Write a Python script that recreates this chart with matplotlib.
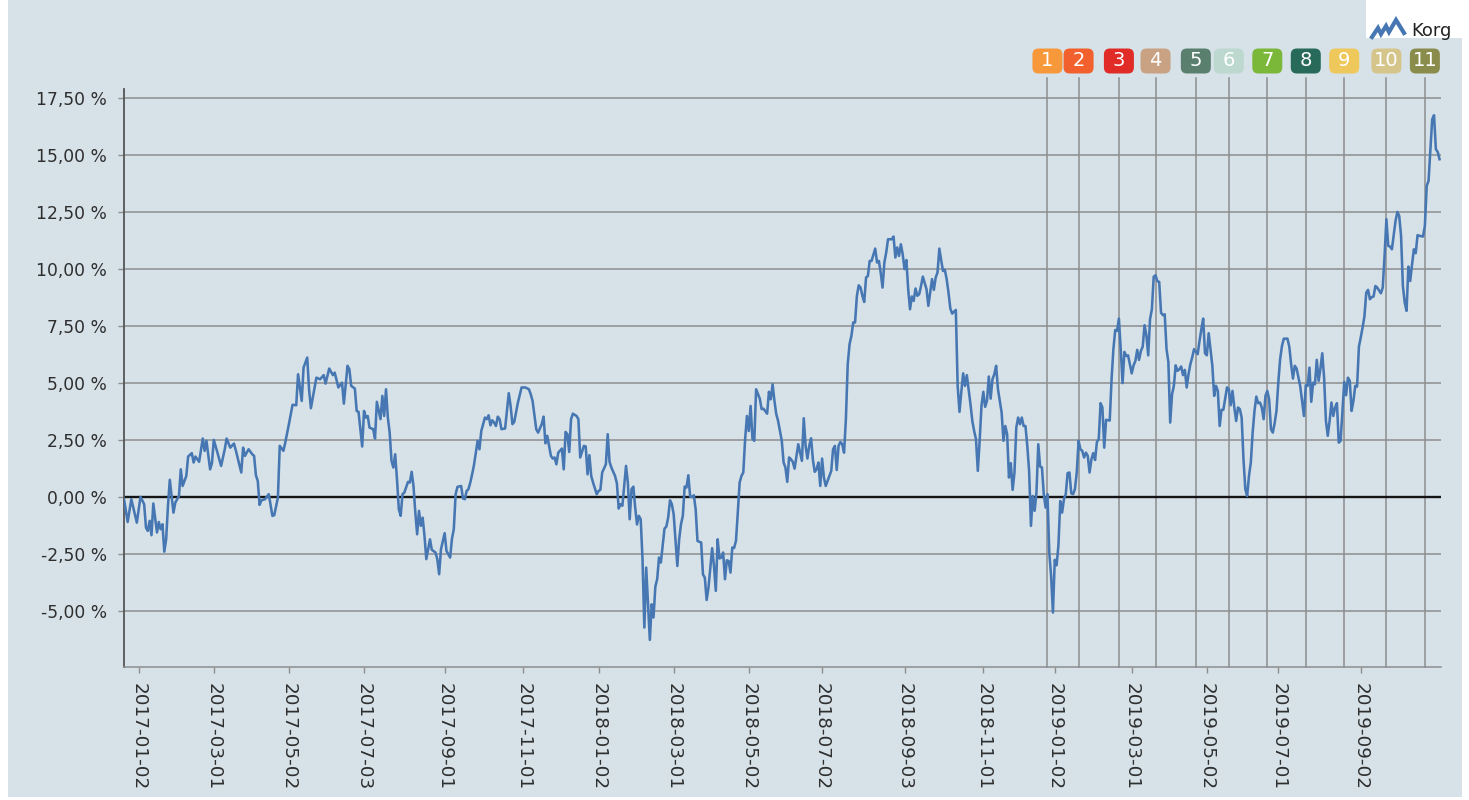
import numpy as np
import pandas as pd
import matplotlib
matplotlib.use("Agg")
import matplotlib.pyplot as plt
from matplotlib.patches import FancyBboxPatch, Rectangle
from matplotlib.lines import Line2D
from matplotlib.transforms import blended_transform_factory, IdentityTransform

# ---------------- data ----------------
start_date = "2016-12-20"
end_date = "2019-10-31"
holidays = ["2016-12-26",
            "2017-01-06", "2017-04-14", "2017-04-17", "2017-05-01", "2017-05-25",
            "2017-06-06", "2017-06-23", "2017-12-25", "2017-12-26",
            "2018-01-01", "2018-01-05", "2018-03-30", "2018-04-02", "2018-05-01",
            "2018-05-10", "2018-06-06", "2018-06-22", "2018-12-24", "2018-12-25",
            "2018-12-26", "2018-12-31",
            "2019-01-01", "2019-04-19", "2019-04-22", "2019-05-01", "2019-05-30",
            "2019-06-06", "2019-06-21"]

# trading-session number (0 = start_date) and return in percent
sessions = [
    0, 2, 4, 7, 9, 11, 12, 13, 14, 15, 16, 18, 19, 20, 21, 22, 23, 24, 25, 27,
    28, 30, 31, 32, 34, 35, 37, 38, 39, 41, 43, 44, 45, 47, 48, 49, 51, 53, 55, 56,
    58, 60, 61, 64, 65, 66, 68, 70, 71, 72, 73, 74, 75, 77, 79, 81, 82, 84, 85, 87,
    88, 90, 92, 94, 95, 97, 98, 100, 101, 102, 105, 107, 109, 110, 112, 114, 115, 117,
    119, 120, 122, 123, 124, 126, 127, 128, 130, 131, 132, 133, 134, 136, 137, 138,
    140, 141, 142, 143, 144, 145, 146, 147, 148, 149, 150, 151, 152, 153, 155, 156,
    157, 158, 159, 160, 161, 162, 163, 164, 165, 167, 168, 170, 171, 172, 173, 175,
    176, 178, 179, 180, 181, 182, 184, 185, 186, 187, 188, 189, 190, 191, 193, 194,
    195, 197, 198, 199, 200, 201, 202, 203, 204, 205, 206, 208, 210, 211, 212, 213,
    215, 217, 219, 221, 222, 223, 225, 226, 228, 229, 230, 231, 233, 234, 235, 236, 237,
    239, 240, 241, 242, 243, 244, 245, 247, 248, 249, 251, 252, 253, 254, 255, 256,
    258, 259, 260, 261, 263, 264, 265, 266, 268, 269, 270, 271, 272, 274, 275, 276,
    277, 278, 279, 280, 281, 282, 283, 284, 285, 286, 287, 288, 289, 290, 291, 292,
    293, 295, 296, 297, 298, 299, 300, 302, 303, 304, 305, 306, 307, 308, 309, 310,
    311, 312, 313, 314, 315, 316, 317, 318, 319, 321, 322, 323, 324, 325, 326, 327,
    328, 329, 330, 331, 332, 333, 334, 335, 336, 337, 338, 339, 340, 341, 342, 343,
    344, 345, 347, 348, 349, 351, 352, 353, 354, 355, 356, 357,
    359, 360, 361, 362, 363, 364, 365, 366, 368, 369, 370, 371, 372, 373, 374, 375,
    376, 377, 378, 379, 380, 381, 382, 383, 384, 386, 387, 388, 389, 390, 391, 392,
    393, 394, 395, 396, 397, 398, 399, 400, 401, 402, 403, 404, 405, 406, 407, 408,
    410, 411, 412, 413, 414, 415, 416, 417, 419, 420, 421, 422, 423, 424, 425, 426,
    427, 428, 429, 430, 431, 432, 433, 434, 435, 436, 438, 439, 440, 441, 442, 443,
    444, 445, 446, 447, 448, 449, 450, 451, 452, 454, 455, 456, 457, 458, 459, 460,
    461, 462, 463, 464, 465, 466, 467, 468, 469, 470, 471, 472, 473, 474, 475, 476, 477,
    479, 480, 481, 482, 483, 484, 485, 486, 487, 488, 489, 490, 491, 492, 493, 494,
    495, 496, 497, 498, 499, 500, 501, 502, 503, 504, 505, 506, 507, 508, 509, 510,
    511, 512, 513, 514, 515, 516, 517, 518, 519, 520, 521, 522, 523, 524, 525, 526,
    527, 528, 529, 530, 531, 532, 533, 534, 535, 536, 538, 539, 540, 541, 542, 543,
    544, 545, 546, 547, 548, 550, 551, 552, 553, 554, 555, 556, 557, 558, 559, 560,
    561, 562, 563, 564, 565, 566, 567, 568, 569, 570, 571, 572, 573, 574, 575, 576,
    577, 578, 579, 580, 581, 582, 583, 584, 586, 587, 588, 589, 590, 591, 592, 594,
    595, 596, 597,
    598, 599, 600, 602, 603, 604, 605, 606, 607, 608, 609, 610, 611, 612, 613, 614,
    615, 616, 617, 618, 619, 620, 621, 622, 623, 624, 625, 626, 627, 628, 629, 630,
    631, 632, 633, 635, 636, 637, 638, 639, 640, 642, 643, 644, 645, 646, 647, 648,
    649, 650, 651, 652, 653, 654, 655, 656, 657, 658, 659, 660, 661, 662, 663, 664,
    665, 666, 667, 668, 669, 670, 671, 672, 673, 674, 675, 676, 677, 678, 679, 680,
    681, 682, 683, 684, 686, 687, 688, 689, 690, 691, 692, 694, 695, 696, 697, 698,
    699, 700, 701, 702, 703, 704, 705, 706, 707, 709, 710, 711, 712, 713, 714, 715,
    716, 717, 718]

pct = [
    -0.10, -1.10, -0.10, -1.13, 0.00, -0.32, -1.35, -1.49, -1.05, -1.68, -0.29, -1.56, -1.10, -1.42, -1.20, -2.40, -1.86, -0.39, 0.75, -0.69,
    -0.25, 0.04, 1.21, 0.48, 0.92, 1.77, 1.92, 1.51, 1.77, 1.54, 2.56, 2.02, 2.46, 1.21, 1.48, 2.50, 1.94, 1.36, 2.09, 2.56,
    2.16, 2.34, 2.05, 1.07, 2.16, 1.80, 2.09, 1.87, 1.80, 0.95, 0.70, -0.35, -0.15, -0.10, 0.12, -0.83, -0.80, -0.03, 2.24, 2.02,
    2.38, 3.19, 4.04, 4.02, 5.38, 4.21, 5.67, 6.11, 4.72, 3.89, 5.23, 5.16, 5.34, 4.97, 5.63, 5.34, 5.45, 4.80,
    5.01, 4.09, 5.75, 5.60, 4.87, 4.75, 3.77, 3.73, 2.21, 3.77, 3.48, 3.55, 3.04, 2.97, 2.56, 4.17,
    3.41, 4.43, 3.55, 4.72, 3.48, 2.82, 1.58, 1.29, 1.87, 0.77, -0.54, -0.83, 0.12, 0.19, 0.66, 0.63,
    1.10, 0.48, -0.69, -1.64, -0.61, -1.27, -0.91, -1.71, -2.73, -1.86, -2.32, -2.44, -2.73, -3.39, -2.30, -1.59,
    -2.37, -2.66, -1.83, -1.42, 0.12, 0.44, 0.48, -0.07, -0.10, 0.26, 0.34, 0.63, 0.99, 1.39, 2.46, 2.09,
    2.89, 3.48, 3.41, 3.58, 3.14, 3.36, 3.26, 3.11, 3.52, 3.41, 2.97, 3.00, 4.55, 3.99, 3.19, 3.29,
    4.14, 4.80, 4.80, 4.72, 4.50, 4.21, 2.97, 2.82, 3.19, 3.52, 2.35, 2.68, 1.80, 1.68, 1.73, 1.43, 1.94,
    2.12, 1.21, 2.85, 2.75, 1.97, 3.41, 3.65, 3.55, 3.41, 1.73, 2.24, 2.21, 0.99, 1.83, 0.92, 0.63,
    0.12, 0.26, 0.31, 1.07, 1.43, 2.75, 1.54, 1.29, 0.92, 0.60, -0.51, -0.32, -0.39, 1.36, 0.63, -0.98,
    0.34, 0.45, -0.47, -1.21, -0.83, -0.98, -2.73, -5.73, -3.10, -4.64, -6.27, -4.71, -5.29, -3.93, -3.61, -2.66,
    -2.88, -1.39, -1.30, -0.91, -0.15, -0.32, -0.76, -3.03, -1.86, -1.20, -0.83, 0.45, 0.41, 0.95, 0.01, 0.00,
    0.07, -0.54, -1.93, -1.97, -2.00, -3.40, -3.54, -4.52, -3.98, -2.25, -3.03, -4.12, -1.86, -2.70, -2.66, -2.44,
    -3.61, -2.78, -2.81, -3.32, -2.22, -2.24, -1.93, -0.69, 0.63, 0.92, 1.07, 2.53, 3.55, 2.89, 3.99, 2.56,
    2.46, 4.72, 4.31, 3.85, 3.87, 3.65, 4.61, 4.28, 4.94, 4.21, 3.63, 3.33,
    2.46, 1.51, 1.29, 0.66, 1.73, 1.65, 1.54, 1.24, 2.31, 1.94, 1.58, 3.45, 2.24, 1.68, 2.24, 2.57,
    1.62, 1.10, 1.21, 1.51, 0.48, 1.68, 0.85, 0.48, 0.70, 1.14, 2.09, 2.24, 1.18, 2.24, 2.41, 2.31,
    1.94, 3.41, 5.82, 6.70, 7.06, 7.65, 7.65, 8.82, 9.28, 9.18, 8.82, 8.55, 9.62, 9.69, 10.35, 10.35,
    10.89, 10.28, 10.35, 9.84, 9.18, 10.28, 10.72, 11.30, 11.30, 11.42, 10.50, 10.94, 10.57, 11.08, 10.64, 9.99,
    10.39, 9.11, 8.23, 8.79, 8.60, 9.14, 8.82, 8.89, 9.25, 9.66, 9.11, 8.38, 8.96, 9.55, 9.08, 9.62,
    9.84, 10.89, 10.38, 9.91, 9.96, 9.55, 8.96, 8.26, 8.04, 8.20, 4.87, 3.73, 4.61, 5.42, 4.87, 5.34,
    4.69, 4.06, 3.33, 2.89, 2.53, 1.14, 2.46, 3.99, 4.61, 3.95, 4.21, 5.28, 4.31, 5.16, 5.38, 5.75, 4.72,
    3.70, 2.46, 3.11, 2.75, 0.85, 1.48, 0.31, 1.07, 3.04, 3.48, 3.19, 3.48, 3.11, 3.11, 2.24, 1.14,
    -1.27, 0.04, -0.61, 0.19, 2.31, 1.33, 1.29, 0.12, -0.47, 0.12, -2.44, -3.46, -5.07, -2.76, -3.00, -2.12,
    -0.18, -0.69, -0.10, 0.12, 1.04, 1.07, 0.16, 0.12, 0.34, 1.07, 2.46, 2.09, 2.02, 1.73, 1.94, 1.80,
    1.07, 1.65, 1.92, 1.62, 2.41, 2.53, 4.11, 3.92, 2.16, 3.38, 3.35, 5.16, 6.48, 7.32, 7.28, 7.82,
    6.48, 4.99, 6.36, 6.18, 6.21, 5.42, 5.77, 5.96, 6.45, 6.01, 6.40, 6.59, 7.53, 7.09, 6.21, 7.79,
    8.23, 9.66, 9.72, 9.46, 9.43, 8.08, 7.97, 8.01, 6.48, 5.92, 3.26, 4.50, 4.87, 5.77, 5.53, 5.60,
    5.72, 5.34, 5.57, 4.80, 5.38, 5.82, 6.11, 6.48, 6.26, 6.84, 7.35, 7.82, 6.30, 6.21, 7.18, 5.75,
    4.43, 4.87, 4.65,
    3.11, 3.82, 3.82, 4.80, 4.72, 4.02, 4.65, 3.92, 3.33, 3.92, 3.85, 3.48, 1.65, 0.34, 0.04, 0.92,
    1.51, 2.82, 3.77, 4.40, 4.11, 4.14, 3.92, 3.41, 4.43, 4.65, 4.28, 2.97, 2.82, 3.23, 3.77, 5.01,
    6.04, 6.62, 6.94, 6.94, 6.59, 5.82, 5.19, 5.75, 5.63, 4.84, 4.21, 3.55, 4.90, 4.87, 5.67, 4.17,
    5.01, 4.94, 6.01, 5.09, 5.63, 6.30, 5.23, 3.33, 2.68, 3.33, 4.14, 3.55, 3.92, 4.11, 2.38, 2.46,
    3.77, 5.04, 4.46, 5.23, 5.09, 3.77, 4.21, 4.87, 4.84, 6.59, 6.99, 7.43, 7.91, 8.96, 9.08, 8.67,
    8.76, 8.79, 9.25, 9.18, 8.93, 9.18, 10.57, 12.18, 11.01, 10.98, 10.86, 12.11, 12.50, 12.32, 11.45, 9.25,
    8.52, 8.16, 10.10, 9.47, 10.20, 10.86, 10.69, 11.48, 11.45, 11.42, 11.89, 13.64, 13.86, 15.25, 16.56, 16.74,
    15.25, 15.13, 14.81]

tick_dates = ["2017-01-02", "2017-03-01", "2017-05-02", "2017-07-03", "2017-09-01",
              "2017-11-01", "2018-01-02", "2018-03-01", "2018-05-02", "2018-07-02",
              "2018-09-03", "2018-11-01", "2019-01-02", "2019-03-01", "2019-05-02",
              "2019-07-01", "2019-09-02"]
y_ticks = [-5.0, -2.5, 0.0, 2.5, 5.0, 7.5, 10.0, 12.5, 15.0, 17.5]

marker_dates = ["2018-12-20", "2019-01-21", "2019-02-20", "2019-03-20", "2019-04-23",
                "2019-05-20", "2019-06-20", "2019-07-22", "2019-08-20", "2019-09-20",
                "2019-10-21"]
marker_labels = ["1", "2", "3", "4", "5", "6", "7", "8", "9", "10", "11"]
marker_colors = ["#f7983a", "#f2612d", "#e02b27", "#c9a183", "#5b7f6f", "#bcd8cf",
                 "#7bb83a", "#286a5a", "#efc85b", "#d6c58b", "#8a8c4b"]

legend_label = "Korg"

# ---------------- calendar ----------------
cal = pd.bdate_range(start_date, end_date, freq="C", holidays=holidays)
tick_pos = cal.get_indexer(pd.to_datetime(tick_dates))
marker_pos = cal.get_indexer(pd.to_datetime(marker_dates))

# ---------------- figure ----------------
W, H = 1469, 800
BG = "#d6e2e8"
TXT = "#2e2e2e"
GRID = "#8e8e8e"

fig = plt.figure(figsize=(W / 100, H / 100), dpi=100)
fig.patch.set_facecolor("white")
fig.add_artist(Rectangle((8 / W, 3 / H), (1462 - 8) / W, 797 / H,
                         transform=fig.transFigure, facecolor=BG, edgecolor="none", zorder=0))
fig.add_artist(Rectangle((1366 / W, 1 - 38 / H), (W - 1366) / W, 38 / H,
                         transform=fig.transFigure, facecolor="white", edgecolor="none", zorder=0.5))

ax = fig.add_axes([124 / W, 1 - 667 / H, (1441 - 124) / W, (667 - 89) / H])
ax.set_facecolor("none")
ax.set_xlim(0, 718.8)
ax.set_ylim(-7.46, 17.89)

ax.set_yticks(y_ticks)
ax.set_yticklabels([("%.2f %%" % v).replace(".", ",") for v in y_ticks],
                   fontsize=12.3, color=TXT)
ax.set_xticks(tick_pos)
ax.set_xticklabels(tick_dates, rotation=-90, fontsize=13.2, color=TXT,
                   ha="center", va="top")

for v in y_ticks:
    if v != 0:
        ax.axhline(v, color=GRID, lw=1.1, zorder=1)
ax.axhline(0, color="#141414", lw=1.7, zorder=2)

for s in ["top", "right"]:
    ax.spines[s].set_visible(False)
ax.spines["left"].set_color("#555555")
ax.spines["left"].set_linewidth(1.3)
ax.spines["bottom"].set_color(GRID)
ax.spines["bottom"].set_linewidth(1.1)
ax.tick_params(axis="y", length=4.5, width=1, color=GRID, pad=8)
ax.tick_params(axis="x", length=4.5, width=1, color=GRID, pad=7)

# event markers
btrans = blended_transform_factory(ax.transData, ax.transAxes)
for p in marker_pos:
    ax.plot([p, p], [0, 1.019], transform=btrans, color=GRID, lw=1.1,
            clip_on=False, zorder=1.5)

# the series
ax.plot(sessions, pct, color="#4777b3", lw=1.85, zorder=3, solid_joinstyle="round")

# badges (display-pixel coordinates)
fig.canvas.draw()
for p, lab, col in zip(marker_pos, marker_labels, marker_colors):
    xp = ax.transData.transform((p, 0))[0]
    yc = H - 61
    fig.add_artist(FancyBboxPatch((xp - 15, yc - 12.5), 30, 25,
                                  boxstyle="round,pad=0,rounding_size=6",
                                  transform=IdentityTransform(),
                                  facecolor=col, edgecolor="none", zorder=4))
    fig.text(xp / W, yc / H, lab, ha="center", va="center", color="white",
             fontsize=14, zorder=5)

# legend / logo
lx = np.array([1372, 1378, 1381, 1386, 1389, 1396, 1404])
ly = np.array([37, 28, 34, 26, 32, 20, 33])
fig.add_artist(Line2D(lx / W, 1 - ly / H, transform=fig.transFigure,
                      color="#4777b3", lw=3.0, solid_joinstyle="miter", zorder=5))
fig.text(1411 / W, 1 - 31 / H, legend_label, ha="left", va="center",
         fontsize=13, color="#222222", zorder=5)

fig.savefig("out.png", dpi=100, facecolor=fig.get_facecolor())
